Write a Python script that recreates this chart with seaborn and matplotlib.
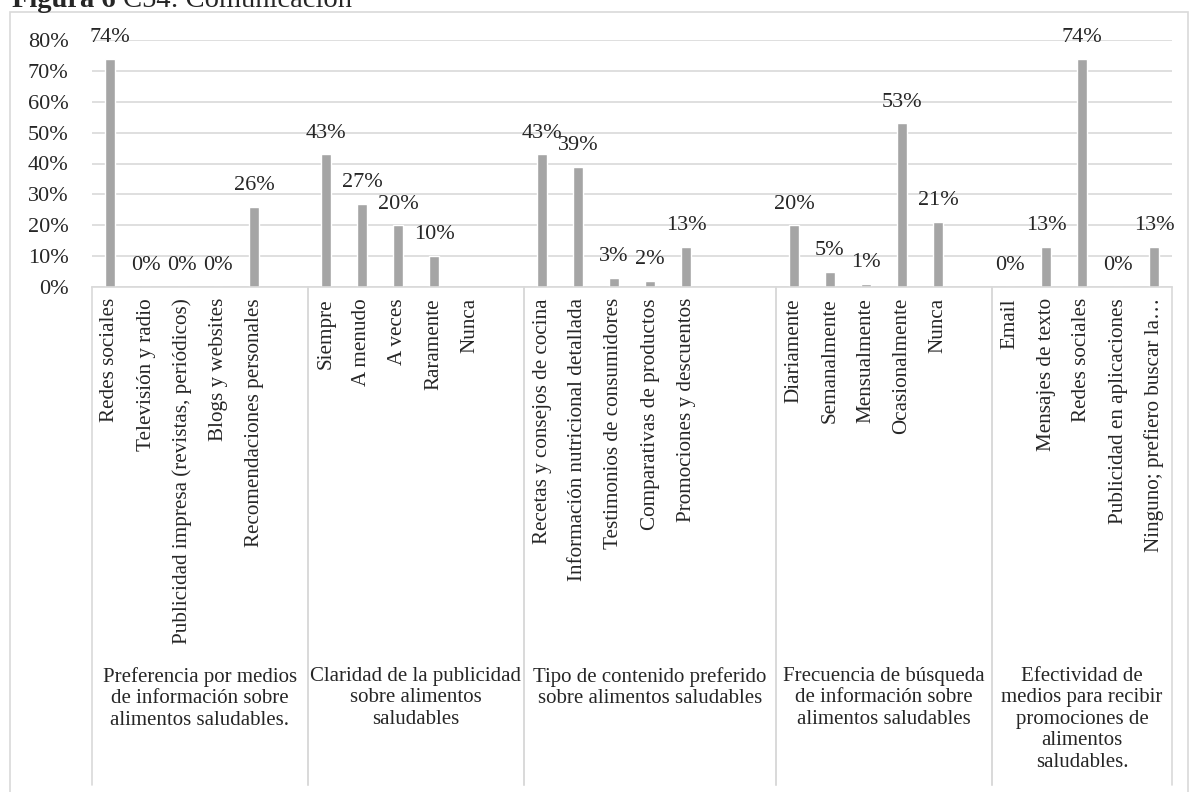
import numpy as np
import pandas as pd
import matplotlib.pyplot as plt
import seaborn as sns
from matplotlib.patches import Rectangle
from matplotlib.transforms import blended_transform_factory
from matplotlib.ticker import PercentFormatter

# datos de la figura (proporciones)
grupos = [
    "Preferencia por medios\nde información sobre\nalimentos saludables.",
    "Claridad de la publicidad\nsobre alimentos\nsaludables",
    "Tipo de contenido preferido\nsobre alimentos saludables",
    "Frecuencia de búsqueda\nde información sobre\nalimentos saludables",
    "Efectividad de\nmedios para recibir\npromociones de\nalimentos\nsaludables.",
]
items_medios = ["Redes sociales", "Televisión y radio", "Publicidad impresa (revistas, periódicos)",
                "Blogs y websites", "Recomendaciones personales"]
val_medios = [0.74, 0.00, 0.00, 0.00, 0.26]
items_claridad = ["Siempre", "A menudo", "A veces", "Raramente", "Nunca"]
val_claridad = [0.43, 0.27, 0.20, 0.10, np.nan]
items_contenido = ["Recetas y consejos de cocina", "Información nutricional detallada",
                   "Testimonios de consumidores", "Comparativas de productos", "Promociones y descuentos"]
val_contenido = [0.43, 0.39, 0.03, 0.02, 0.13]
items_frecuencia = ["Diariamente", "Semanalmente", "Mensualmente", "Ocasionalmente", "Nunca"]
val_frecuencia = [0.20, 0.05, 0.01, 0.53, 0.21]
items_efectividad = ["Email", "Mensajes de texto", "Redes sociales", "Publicidad en aplicaciones",
                     "Ninguno; prefiero buscar la…"]
val_efectividad = [0.00, 0.13, 0.74, 0.00, 0.13]
# filas vacias que trae la tabla original despues de cada grupo
vacios = [1, 1, 2, 1, 0]

items = [items_medios, items_claridad, items_contenido, items_frecuencia, items_efectividad]
valores = [val_medios, val_claridad, val_contenido, val_frecuencia, val_efectividad]

rows, order, tick_labels, limites = [], [], [], []
pos = 0
for g, (its, vals, extra) in enumerate(zip(items, valores, vacios)):
    inicio = pos
    for it, v in zip(its, vals):
        key = f"{g}-{it}"
        order.append(key)
        tick_labels.append(it)
        rows.append({"slot": key, "valor": v})
        pos += 1
    for k in range(extra):
        order.append(f"{g}-vacio{k}")
        tick_labels.append("")
        pos += 1
    limites.append((inicio - 0.5, pos - 0.5))
df = pd.DataFrame(rows)

sns.set_theme(style="white")
plt.rcParams["font.family"] = ["Liberation Serif", "DejaVu Serif"]

W, H = 1190, 792
fig = plt.figure(figsize=(W / 100, H / 100), dpi=100)
ax = fig.add_axes([92 / W, (H - 287) / H, 1080 / W, 247 / H])

sns.barplot(data=df.dropna(), x="slot", y="valor", order=order, color="#A5A5A5",
            saturation=1, width=0.3, ax=ax)

fs_num = 16
fs_cat = 15.2
for i, key in enumerate(order):
    fila = df[df["slot"] == key]
    if fila.empty or np.isnan(fila["valor"].iloc[0]):
        continue
    v = fila["valor"].iloc[0]
    ax.annotate(f"{v:.0%}", (i, v), xytext=(0, 12), textcoords="offset points",
                ha="center", va="baseline", fontsize=fs_num)

ax.set_ylim(0, 0.8)
ax.set_xlim(-0.5, len(order) - 0.5)
ax.set_yticks(np.arange(0, 0.81, 0.1))
ax.yaxis.set_major_formatter(PercentFormatter(1, decimals=0))
ax.set_xticks(range(len(order)))
ax.set_xticklabels(tick_labels, rotation=90, ha="center", va="top")
ax.grid(axis="y", color="#D9D9D9", lw=1.2)
ax.set_axisbelow(True)
for s in ["top", "left", "right"]:
    ax.spines[s].set_visible(False)
ax.spines["bottom"].set_color("#D9D9D9")
ax.spines["bottom"].set_linewidth(1.2)
ax.tick_params(axis="y", length=0, pad=17, labelsize=fs_num)
ax.tick_params(axis="x", length=0, pad=8, labelsize=fs_cat)
ax.set_xlabel("")
ax.set_ylabel("")

# eje de categorias en dos niveles
trans = blended_transform_factory(ax.transData, fig.transFigure)
for g, (a, b) in enumerate(limites):
    for x in (a, b):
        ax.plot([x, x], [(H - 287) / H, 7 / H], transform=trans, color="#D9D9D9",
                lw=1.2, clip_on=False)
    ax.text((a + b) / 2, (H - 667) / H, grupos[g], transform=trans, ha="center",
            va="top", fontsize=15, linespacing=1.17, multialignment="center")

# borde del area del grafico
fig.add_artist(Rectangle((10 / W, -0.01), (1188 - 10) / W, (H - 12) / H + 0.01,
                         transform=fig.transFigure, fill=False, edgecolor="#D9D9D9", lw=1.2))

t1 = fig.text(12 / W, 1 - 7 / H, "Figura 6", fontsize=20.5, weight="bold", va="baseline")
fig.canvas.draw()
bb = t1.get_window_extent()
fig.text(bb.x1 / W, 1 - 7 / H, " C54: Comunicación", fontsize=20.5, va="baseline")

fig.savefig("out.png", dpi=100)
